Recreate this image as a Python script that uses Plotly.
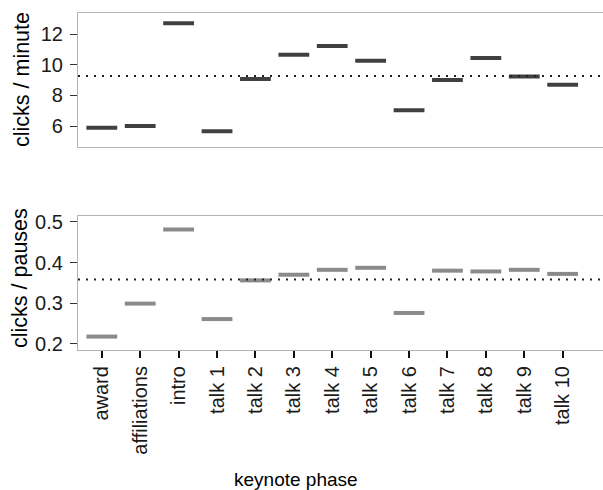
import plotly.graph_objects as go

phases = ["award", "affiliations", "intro", "talk 1", "talk 2", "talk 3", "talk 4",
          "talk 5", "talk 6", "talk 7", "talk 8", "talk 9", "talk 10"]
clicks_per_minute = [5.89, 6.00, 12.70, 5.67, 9.07, 10.65, 11.22, 10.26, 7.04, 9.00, 10.44, 9.24, 8.70]
clicks_per_pause = [0.218, 0.299, 0.481, 0.261, 0.356, 0.370, 0.382, 0.387, 0.276, 0.380, 0.378, 0.382, 0.372]
ref_minute = 9.27
ref_pause = 0.358

FONT = "Liberation Sans, Arial, Helvetica, sans-serif"
W, H = 603, 490
ML, MR, MT, MB = 78, 0, 13, 140
PW, PH = W - ML - MR, H - MT - MB

fig = go.Figure()
idx = list(range(len(phases)))
fig.add_trace(go.Scatter(x=idx, y=clicks_per_minute, mode="markers",
                         marker=dict(symbol="line-ew", size=22,
                                     line=dict(width=4, color="#404040")),
                         xaxis="x", yaxis="y", showlegend=False, hoverinfo="skip"))
fig.add_trace(go.Scatter(x=idx, y=clicks_per_pause, mode="markers",
                         marker=dict(symbol="line-ew", size=22,
                                     line=dict(width=4, color="#8a8a8a")),
                         xaxis="x2", yaxis="y2", showlegend=False, hoverinfo="skip"))

fig.add_shape(type="line", xref="x domain", yref="y", x0=0, x1=1, y0=ref_minute, y1=ref_minute,
              line=dict(color="#222222", width=2, dash="2px,6px"), layer="above")
fig.add_shape(type="line", xref="x2 domain", yref="y2", x0=0, x1=1, y0=ref_pause, y1=ref_pause,
              line=dict(color="#222222", width=2, dash="2px,6px"), layer="above")

xr = [-0.62, 13.05]
border = "#b3b3b3"
tickfont = dict(family=FONT, size=20, color="#1a1a1a")

fig.update_layout(
    width=W, height=H,
    margin=dict(l=ML, r=MR, t=MT, b=MB, autoexpand=False),
    plot_bgcolor="white", paper_bgcolor="white",
    font=dict(family=FONT, size=19, color="black"),
    xaxis=dict(domain=[0, 1], range=xr, anchor="y", showticklabels=False, ticks="",
               showgrid=False, zeroline=False, showline=True, mirror=True,
               linecolor=border, linewidth=1.2, automargin=False),
    yaxis=dict(domain=[0.602, 1], range=[4.63, 13.37], anchor="x",
               tickvals=[6, 8, 10, 12], ticks="outside", ticklen=7, tickwidth=1.2,
               tickcolor="#333333", tickfont=tickfont, showgrid=False, zeroline=False,
               showline=True, linecolor=border, linewidth=1.2, automargin=False,
               ticklabelstandoff=3),
    xaxis2=dict(domain=[0, 1], range=xr, anchor="y2", tickvals=idx, ticktext=phases,
                tickangle=-90, ticks="outside", ticklen=7, tickwidth=1.5, tickcolor="#111111",
                tickfont=tickfont, showgrid=False, zeroline=False, showline=True, mirror=True,
                linecolor=border, linewidth=1.2, automargin=False),
    yaxis2=dict(domain=[0, 0.3985], range=[0.185, 0.515], anchor="x2",
                tickvals=[0.2, 0.3, 0.4, 0.5], tickformat=".1f", ticks="outside", ticklen=7,
                tickwidth=1.2, tickcolor="#333333", tickfont=tickfont, showgrid=False,
                zeroline=False, showline=True, linecolor=border, linewidth=1.2,
                automargin=False, ticklabelstandoff=3),
)

def px_x(p):
    return (p - ML) / PW
def px_y(p):
    return (H - MB - p) / PH

ann = dict(xref="paper", yref="paper", showarrow=False,
           xanchor="center", yanchor="middle")
ytitle_font = dict(family=FONT, size=21.5, color="black")
fig.add_annotation(text="clicks / minute", x=px_x(22), y=px_y(79), textangle=-90,
                   font=ytitle_font, **ann)
fig.add_annotation(text="clicks / pauses", x=px_x(20), y=px_y(278), textangle=-90,
                   font=ytitle_font, **ann)
fig.add_annotation(text="keynote phase", x=px_x(296), y=px_y(479),
                   font=dict(family=FONT, size=19, color="black"), **ann)

fig.write_html(
    "out.html",
    config={"responsive": False, "displayModeBar": False},
    post_script="document.body.style.margin='0';document.body.style.overflow='hidden';",
)
